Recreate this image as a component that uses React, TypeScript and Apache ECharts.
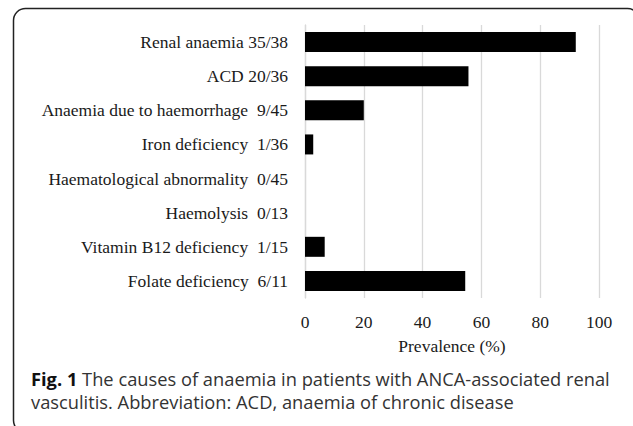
import React, { useEffect, useRef } from "react";
import * as echarts from "echarts";

const categories = [
  "Renal anaemia 35/38",
  "ACD 20/36",
  "Anaemia due to haemorrhage  9/45",
  "Iron deficiency  1/36",
  "Haematological abnormality  0/45",
  "Haemolysis  0/13",
  "Vitamin B12 deficiency  1/15",
  "Folate deficiency  6/11",
];
const prevalence = [92.1, 55.6, 20.0, 2.8, 0, 0, 6.7, 54.5];
const xTicks = { min: 0, max: 100, interval: 20 };
const axisName = "Prevalence (%)";
const captionBold = "Fig. 1";
const captionLine1 = " The causes of anaemia in patients with ANCA-associated renal";
const captionLine2 = "vasculitis. Abbreviation: ACD, anaemia of chronic disease";

const SERIF = "'Liberation Serif', 'Times New Roman', serif";
const SANS = "'Open Sans', 'Noto Sans', sans-serif";

export default function App() {
  const ref = useRef<HTMLDivElement>(null);
  useEffect(() => {
    if (!ref.current) return;
    const chart = echarts.init(ref.current, undefined, { renderer: "svg" });
    chart.setOption({
      animation: false,
      backgroundColor: "#fff",
      grid: { left: 305, right: 34, top: 25, bottom: 128, containLabel: false },
      xAxis: {
        type: "value",
        min: xTicks.min,
        max: xTicks.max,
        interval: xTicks.interval,
        name: axisName,
        nameLocation: "middle",
        nameGap: 39,
        nameTextStyle: { fontFamily: SERIF, fontSize: 17.5, color: "#1a1a1a" },
        axisLine: { show: false },
        axisTick: { show: false },
        axisLabel: { fontFamily: SERIF, fontSize: 17.5, color: "#1a1a1a", margin: 15 },
        splitLine: { show: true, lineStyle: { color: "#d9d9d9", width: 1.3 } },
      },
      yAxis: {
        type: "category",
        inverse: true,
        data: categories,
        axisLine: { show: true, lineStyle: { color: "#d9d9d9", width: 1.3 } },
        axisTick: { show: false },
        axisLabel: { fontFamily: SERIF, fontSize: 17.5, color: "#1a1a1a", margin: 17 },
      },
      series: [
        {
          type: "bar",
          data: prevalence,
          barWidth: 20,
          itemStyle: { color: "#000" },
        },
      ],
      graphic: [
        {
          type: "rect",
          shape: { x: 13.5, y: 8.5, width: 626, height: 424, r: 12 },
          style: { fill: "none", stroke: "#222", lineWidth: 1.5 },
          silent: true,
        },
        {
          type: "text",
          left: 31,
          top: 369,
          style: {
            text: "{b|" + captionBold + "}{n|" + captionLine1 + "}\n{n|" + captionLine2 + "}",
            rich: {
              b: { fontFamily: SANS, fontWeight: "bold", fontSize: 18.3, fill: "#111", lineHeight: 23 },
              n: { fontFamily: SANS, fontSize: 18.3, fill: "#333", lineHeight: 23 },
            },
          },
        },
      ],
    });
    return () => chart.dispose();
  }, []);
  return (
    <div
      ref={ref}
      style={{ position: "fixed", left: 0, top: 0, width: 633, height: 426 }}
    />
  );
}
